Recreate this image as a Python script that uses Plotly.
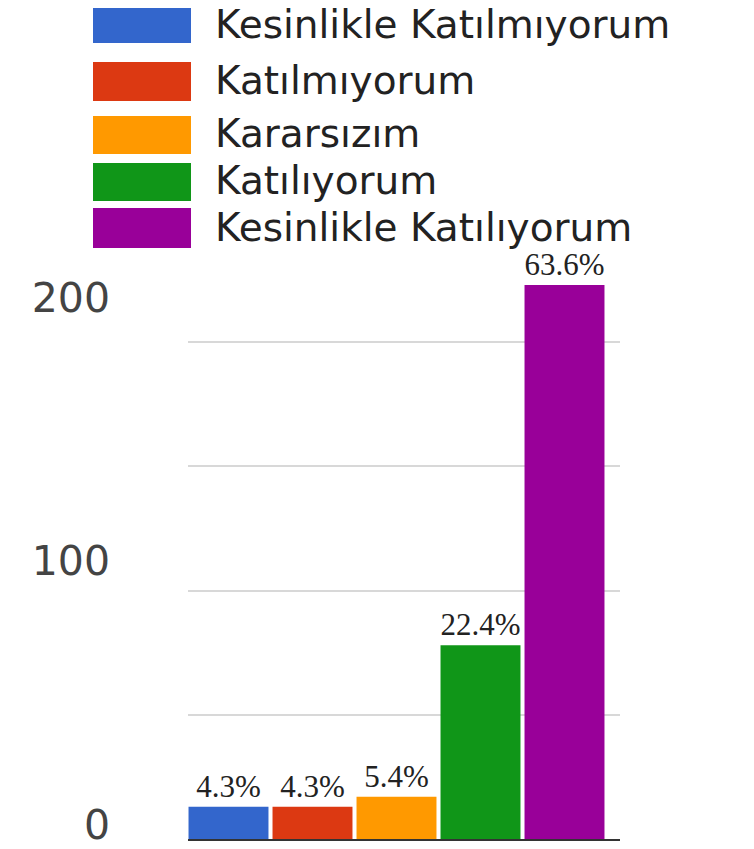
import plotly.graph_objects as go

# ---- data ----
categories = ["Kesinlikle Katılmıyorum", "Katılmıyorum", "Kararsızım",
              "Katılıyorum", "Kesinlikle Katılıyorum"]
counts = [13, 13, 17, 78, 223]
percent_labels = ["4.3%", "4.3%", "5.4%", "22.4%", "63.6%"]
colors = ["#3366cc", "#dc3912", "#ff9900", "#109618", "#990099"]
tick_values = [0, 100, 200]
tick_labels = ["0", "100", "200"]

# ---- layout geometry (page pixels; page body has an 8px margin) ----
OFF = 8
W, H = 754 - 2 * OFF, 849 - 2 * OFF
PL, PR, PT, PB = 188, 620, 270, 839          # plot area in page pixels
PX_PER_UNIT = 2.484          # primary scale (gridlines every 50)
LBL_TOP_PX = 297.7           # where the top label sits
LBL_ZERO_PX = 824.5          # where the bottom label sits
LBL_PX_PER_UNIT = (LBL_ZERO_PX - LBL_TOP_PX) / 200.0

def xp(px):
    return (px - PL) / (PR - PL)

def yp(py):
    return (PB - py) / (PB - PT)

fig = go.Figure()
fig.add_trace(go.Bar(
    x=categories, y=counts,
    marker=dict(color=colors, line=dict(width=0)),
    width=0.952,
    text=percent_labels, textposition="outside", cliponaxis=False,
    textfont=dict(family="Liberation Serif, Times New Roman, serif", size=31, color="#222222"),
    showlegend=False, hoverinfo="x+y",
))
# empty helper trace so the label axis is drawn
fig.add_trace(go.Scatter(x=[], y=[], yaxis="y2", showlegend=False, hoverinfo="skip"))

# custom legend (large swatches)
row_tops = [4, 62, 116, 163, 208]
row_bottoms = [43, 101, 154, 201, 248]
text_nudge = [1, -1, -1, -1, -1]
shapes = []
annotations = []
for name, col, t, b, dy in zip(categories, colors, row_tops, row_bottoms, text_nudge):
    shapes.append(dict(type="rect", xref="paper", yref="paper",
                       x0=xp(93), x1=xp(191), y0=yp(b), y1=yp(t),
                       fillcolor=col, line=dict(width=0), layer="above"))
    annotations.append(dict(xref="paper", yref="paper", x=xp(214), y=yp((t + b) / 2 + dy),
                            xanchor="left", yanchor="middle", showarrow=False,
                            text=name, borderpad=0,
                            font=dict(family="DejaVu Sans, Arial, sans-serif", size=39, color="#222222")))

x_left = -((228.5 - PL) / 84.0)
x_right = x_left + (PR - PL) / 84.0

fig.update_layout(
    width=W, height=H, autosize=False,
    margin=dict(l=PL - OFF, r=(754 - OFF) - PR, t=PT - OFF, b=(849 - OFF) - PB, pad=0,
                autoexpand=False),
    paper_bgcolor="white", plot_bgcolor="white",
    bargap=0.05,
    shapes=shapes, annotations=annotations,
    xaxis=dict(type="category", range=[x_left, x_right], showticklabels=False,
               ticks="", showgrid=False, zeroline=False, automargin=False,
               showline=True, linecolor="#333333", linewidth=4, fixedrange=True),
    yaxis=dict(range=[0, (PB - PT) / PX_PER_UNIT], dtick=50, tick0=0, automargin=False,
               showgrid=True, gridcolor="#d8d8d8", gridwidth=2,
               showticklabels=False, ticks="", zeroline=False, showline=False),
    yaxis2=dict(overlaying="y", side="left", anchor="x", automargin=False,
                range=[-(PB - LBL_ZERO_PX) / LBL_PX_PER_UNIT, (LBL_ZERO_PX - PT) / LBL_PX_PER_UNIT],
                tickmode="array", tickvals=tick_values, ticktext=tick_labels,
                showgrid=False, zeroline=False, showline=False, ticks="",
                ticklabelstandoff=77, ticklabeloverflow="allow",
                tickfont=dict(family="DejaVu Sans, Arial, sans-serif", size=41, color="#444444")),
    font=dict(family="DejaVu Sans, Arial, sans-serif"),
)

fig.write_html("out.html")
